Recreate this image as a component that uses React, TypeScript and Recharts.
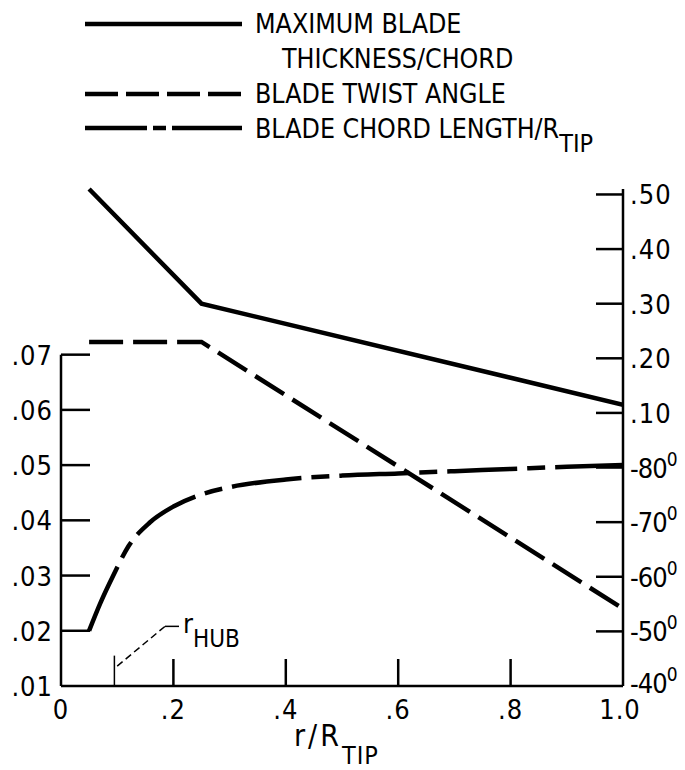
import React from 'react';
import { LineChart, Line, XAxis, YAxis, ReferenceLine } from 'recharts';

const FONT = "'Liberation Sans Narrow', 'DejaVu Sans Condensed', sans-serif";

// r/R_TIP stations for each curve
const THICK_R = [0.05, 0.25, 1.0];
const THICK_VAL = [0.51, 0.3, 0.115];

const TWIST_R = [0.05, 0.25, 1.0];
const TWIST_DEG = [-102.3, -102.3, -54];

const CHORD_R = [0.05, 0.07, 0.093, 0.12, 0.158, 0.2, 0.25, 0.3, 0.4, 0.5, 0.6, 0.7, 0.8, 0.9, 1.0];
const CHORD_VAL = [0.02, 0.025, 0.03, 0.0353, 0.0396, 0.0425, 0.0447, 0.046, 0.0474, 0.0481, 0.0485, 0.0489, 0.0493, 0.0497, 0.05];

// axis ticks
const X_TICKS = [0, 0.2, 0.4, 0.6, 0.8, 1.0];
const X_LABELS = ['0', '.2', '.4', '.6', '.8', '1.0'];
const LEFT_TICKS = [0.01, 0.02, 0.03, 0.04, 0.05, 0.06, 0.07];
const LEFT_LABELS = ['.01', '.02', '.03', '.04', '.05', '.06', '.07'];
// right scale is shared: thickness/chord above, twist angle (deg) below
const RIGHT_TICKS = [-0.4, -0.3, -0.2, -0.1, 0, 0.1, 0.2, 0.3, 0.4, 0.5];
const RIGHT_LABELS = ['-40', '-50', '-60', '-70', '-80', '.10', '.20', '.30', '.40', '.50'];
const RIGHT_DEGREE = [true, true, true, true, true, false, false, false, false, false];

const HUB_R = 0.095;

const thickData = THICK_R.map((r, i) => ({ r, v: THICK_VAL[i] }));
const twistData = TWIST_R.map((r, i) => ({ r, v: TWIST_DEG[i] }));
const chordData = CHORD_R.map((r, i) => ({ r, v: CHORD_VAL[i] }));

const LeftTick = (props: any) => {
    const { x, y, index } = props;
    return (
        <g>
            {index > 0 && <line x1={x} y1={y} x2={x + 29} y2={y} stroke="#000" strokeWidth={2.5} />}
            <text x={x - 8} y={y + 10} textAnchor="end" fontSize={27} fontFamily={FONT} letterSpacing={1} fill="#000">
                {LEFT_LABELS[index]}
            </text>
        </g>
    );
};

const RightTick = (props: any) => {
    const { x, y, index } = props;
    const deg = RIGHT_DEGREE[index];
    return (
        <g>
            {index > 0 && <line x1={x - 27} y1={y} x2={x} y2={y} stroke="#000" strokeWidth={2.5} />}
            <text x={x + 7} y={y + (index === 0 ? 7 : 10)} textAnchor="start" fontSize={27} fontFamily={FONT} letterSpacing={deg ? -1 : 1} fill="#000">
                {RIGHT_LABELS[index]}
                {deg && <tspan dy={-12} fontSize={19}>0</tspan>}
            </text>
        </g>
    );
};

const BottomTick = (props: any) => {
    const { x, y, index } = props;
    const inner = index > 0 && index < X_TICKS.length - 1;
    const last = index === X_TICKS.length - 1;
    return (
        <g>
            {inner && <line x1={x} y1={y - 27} x2={x} y2={y} stroke="#000" strokeWidth={2.5} />}
            <text x={last ? x - 3 : x} y={y + 33} textAnchor="middle" fontSize={27} fontFamily={FONT} letterSpacing={1} fill="#000">
                {X_LABELS[index]}
            </text>
        </g>
    );
};

const XTitle = (props: any) => {
    const { viewBox } = props;
    const y = viewBox.y;
    return (
        <text x={294} y={y + 60} fontSize={30} fontFamily={FONT} letterSpacing={3} fill="#000">
            r/R<tspan dy={18} fontSize={25} letterSpacing={1}>TIP</tspan>
        </text>
    );
};

const HubLabel = (props: any) => {
    const { viewBox } = props;
    const x = viewBox.x + viewBox.width;
    const y = viewBox.y;
    return (
        <text x={x + 4} y={y + 7} fontSize={27} fontFamily={FONT} fill="#000">
            r<tspan dy={14} fontSize={24}>HUB</tspan>
        </text>
    );
};

const LegendBlock = () => (
    <svg width={685} height={160} style={{ position: 'absolute', left: 0, top: 0 }}>
        <g fontFamily={FONT} fontSize={26.5} fill="#000">
            <line x1={85} y1={24} x2={242} y2={24} stroke="#000" strokeWidth={4.5} />
            <text x={255} y={33}>MAXIMUM BLADE</text>
            <text x={282} y={68}>THICKNESS/CHORD</text>
            <line x1={85} y1={94} x2={242} y2={94} stroke="#000" strokeWidth={4.5} strokeDasharray="33 8" />
            <text x={255} y={103}>BLADE TWIST ANGLE</text>
            <line x1={85} y1={128} x2={242} y2={128} stroke="#000" strokeWidth={4.5} strokeDasharray="62 6 13 6 80" />
            <text x={255} y={138}>
                BLADE CHORD LENGTH/R<tspan dy={14} fontSize={25}>TIP</tspan>
            </text>
        </g>
    </svg>
);

export default function App() {
    return (
        <div style={{ position: 'absolute', left: 0, top: 0, width: 685, height: 770, background: '#fff' }}>
            <LegendBlock />
            <LineChart width={685} height={770} margin={{ top: 189, right: 61, bottom: 83, left: 60 }}>
                <XAxis
                    dataKey="r"
                    type="number"
                    domain={[0, 1]}
                    ticks={X_TICKS}
                    height={1}
                    tickSize={0}
                    tickMargin={0}
                    tickLine={false}
                    tick={<BottomTick />}
                    axisLine={{ stroke: '#000', strokeWidth: 2.5 }}
                    interval={0}
                    label={<XTitle />}
                    allowDataOverflow
                />
                <YAxis
                    yAxisId="chord"
                    type="number"
                    domain={[0.01, 0.1]}
                    ticks={LEFT_TICKS}
                    width={1}
                    tickSize={0}
                    tickMargin={0}
                    tickLine={false}
                    tick={<LeftTick />}
                    axisLine={false}
                    interval={0}
                />
                <YAxis
                    yAxisId="thick"
                    orientation="right"
                    type="number"
                    domain={[-0.4, 0.5]}
                    ticks={RIGHT_TICKS}
                    width={1}
                    tickSize={0}
                    tickMargin={0}
                    tickLine={false}
                    tick={<RightTick />}
                    axisLine={{ stroke: '#000', strokeWidth: 2.5 }}
                    interval={0}
                />
                <YAxis yAxisId="twist" type="number" domain={[-130, -40]} reversed hide />

                {/* left axis spine only runs up to .07 */}
                <ReferenceLine
                    yAxisId="chord"
                    segment={[{ x: 0, y: 0.01 }, { x: 0, y: 0.07 }]}
                    stroke="#000"
                    strokeWidth={2.5}
                />

                {/* r_HUB marker */}
                <ReferenceLine
                    yAxisId="chord"
                    segment={[{ x: HUB_R, y: 0.01 }, { x: HUB_R, y: 0.0155 }]}
                    stroke="#000"
                    strokeWidth={1.5}
                />
                <ReferenceLine
                    yAxisId="chord"
                    segment={[{ x: HUB_R + 0.005, y: 0.0136 }, { x: HUB_R + 0.09, y: 0.0208 }]}
                    stroke="#000"
                    strokeWidth={1.5}
                    strokeDasharray="7 4"
                />
                <ReferenceLine
                    yAxisId="chord"
                    segment={[{ x: HUB_R + 0.09, y: 0.0208 }, { x: HUB_R + 0.115, y: 0.0208 }]}
                    stroke="#000"
                    strokeWidth={1.5}
                    label={<HubLabel />}
                />

                <Line
                    yAxisId="thick"
                    data={thickData}
                    dataKey="v"
                    type="linear"
                    stroke="#000"
                    strokeWidth={4.5}
                    dot={false}
                    isAnimationActive={false}
                />
                <Line
                    yAxisId="twist"
                    data={twistData}
                    dataKey="v"
                    type="linear"
                    stroke="#000"
                    strokeWidth={4.5}
                    strokeDasharray="34 10"
                    dot={false}
                    isAnimationActive={false}
                />
                <Line
                    yAxisId="chord"
                    data={chordData}
                    dataKey="v"
                    type="monotone"
                    stroke="#000"
                    strokeWidth={4.5}
                    strokeDasharray="70 10 18 10"
                    dot={false}
                    isAnimationActive={false}
                />
            </LineChart>
        </div>
    );
}
